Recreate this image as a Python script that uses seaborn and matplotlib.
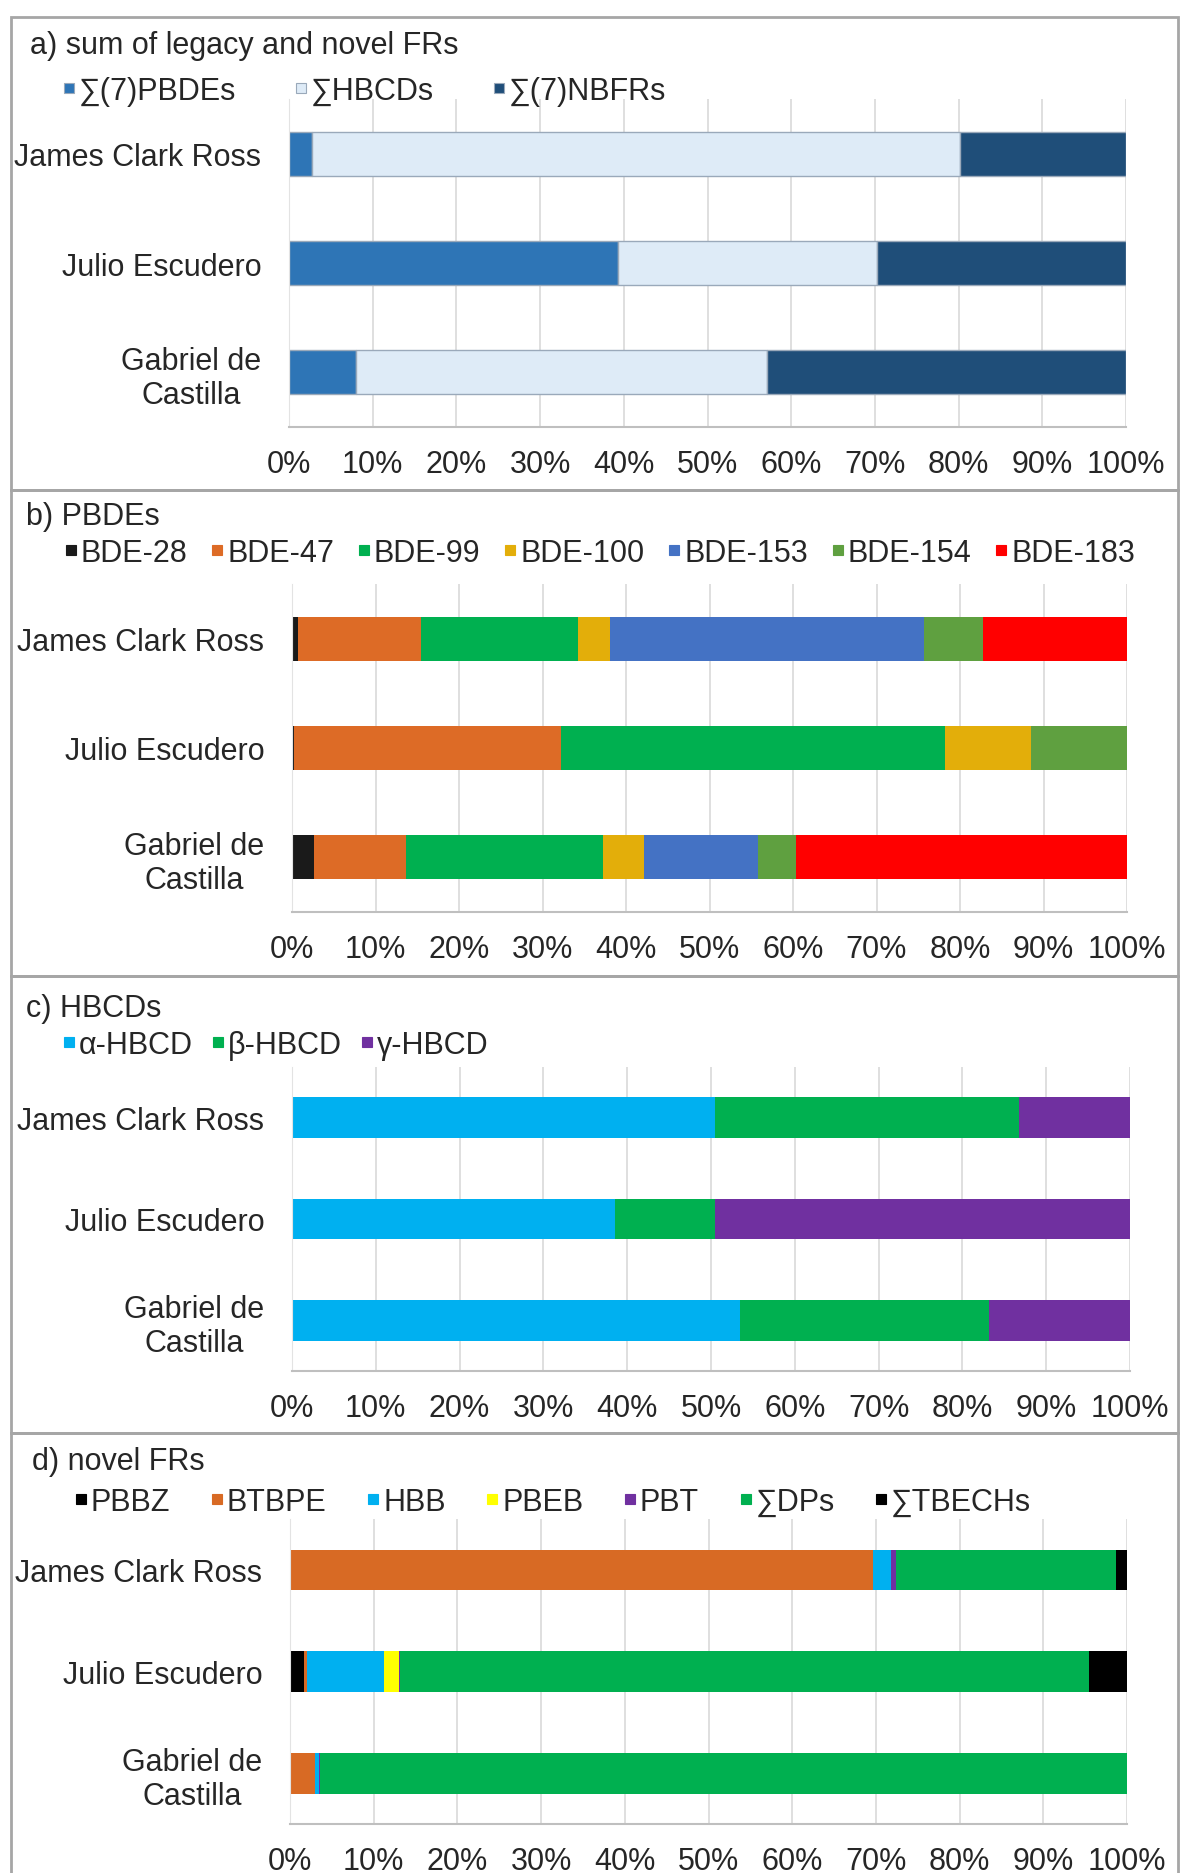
import numpy as np
import matplotlib
matplotlib.use("Agg")
import matplotlib.pyplot as plt
from matplotlib.lines import Line2D
from matplotlib.patches import Rectangle
import seaborn as sns

stations = ["James Clark Ross", "Julio Escudero", "Gabriel de\nCastilla"]

# a) sum of legacy and novel FRs (% of total)
a_labels = ["∑(7)PBDEs", "∑HBCDs", "∑(7)NBFRs"]
a_pbde = [2.8, 39.3, 8.0]
a_hbcd = [77.4, 31.0, 49.1]
a_nbfr = [19.8, 29.7, 42.9]

# b) PBDEs
b_labels = ["BDE-28", "BDE-47", "BDE-99", "BDE-100", "BDE-153", "BDE-154", "BDE-183"]
bde28 = [0.7, 0.2, 2.6]
bde47 = [14.8, 32.0, 11.1]
bde99 = [18.8, 46.0, 23.5]
bde100 = [3.8, 10.3, 4.9]
bde153 = [37.6, 0.0, 13.7]
bde154 = [7.0, 11.5, 4.6]
bde183 = [17.3, 0.0, 39.6]

# c) HBCDs
c_labels = ["α-HBCD", "β-HBCD", "γ-HBCD"]
hbcd_a = [50.5, 38.6, 53.5]
hbcd_b = [36.2, 11.9, 29.7]
hbcd_g = [13.3, 49.5, 16.8]

# d) novel FRs
d_labels = ["PBBZ", "BTBPE", "HBB", "PBEB", "PBT", "∑DPs", "∑TBECHs"]
pbbz = [0.0, 1.7, 0.0]
btbpe = [69.7, 0.3, 3.0]
hbb = [2.1, 9.2, 0.5]
pbeb = [0.0, 1.8, 0.0]
pbt = [0.6, 0.2, 0.1]
dps = [26.3, 82.3, 96.4]
tbech = [1.3, 4.5, 0.0]

ticks = list(range(0, 101, 10))
tick_labels = [f"{t}%" for t in ticks]

sns.set_style("white")
plt.rcParams["font.family"] = ["Liberation Sans", "DejaVu Sans"]
TXT = "#262626"
FS = 22

W, H = 1181, 1874
fig = plt.figure(figsize=(W / 100, H / 100), dpi=100)


def px_axes(x0, x1, y0, y1):
    return fig.add_axes([x0 / W, 1 - y1 / H, (x1 - x0) / W, (y1 - y0) / H])


def panel(ax, series, colors, labels, title, title_xy, leg_xy, colspace, edge=None):
    left = np.zeros(len(stations))
    for vals, col in zip(series, colors):
        sns.barplot(x=vals, y=stations, left=left, color=col, saturation=1,
                    width=0.4, orient="y", errorbar=None, ax=ax,
                    edgecolor=edge if edge else col,
                    linewidth=1.0 if edge else 0)
        left = left + np.array(vals)
    ax.set_xlim(0, 100)
    ax.set_ylim(2.5, -0.5)
    ax.set_xticks(ticks)
    ax.set_xticklabels(tick_labels)
    ax.set_xlabel("")
    ax.set_ylabel("")
    ax.xaxis.grid(True, color="#D9D9D9", lw=1.2)
    ax.set_axisbelow(True)
    for s in ["top", "right"]:
        ax.spines[s].set_visible(False)
    ax.spines["bottom"].set_color("#BFBFBF")
    ax.spines["bottom"].set_linewidth(1.5)
    ax.spines["left"].set_color("#E3E3E3")
    ax.set_yticks([-0.5, 0.5, 1.5, 2.5], minor=True)
    ax.tick_params(axis="y", which="minor", length=5, color="#E3E3E3")
    ax.tick_params(axis="y", which="major", length=0, pad=20, labelsize=FS, labelcolor=TXT)
    ax.tick_params(axis="x", length=0, pad=16, labelsize=FS, labelcolor=TXT)
    for lbl in ax.get_yticklabels():
        lbl.set_multialignment("center")
    fig.text(title_xy[0] / W, 1 - title_xy[1] / H, title, fontsize=FS, color=TXT,
             ha="left", va="center")
    handles = [Line2D([], [], marker="s", linestyle="none", markersize=7.5,
                      markerfacecolor=c, markeredgecolor=(edge if edge else c),
                      markeredgewidth=0.8)
               for c in colors]
    fig.legend(handles, labels, loc="center left",
               bbox_to_anchor=(leg_xy[0] / W, 1 - leg_xy[1] / H),
               ncol=len(labels), frameon=False, fontsize=FS, labelcolor=TXT,
               handlelength=0.45, handletextpad=0.1, columnspacing=colspace,
               borderpad=0, borderaxespad=0)


ax_a = px_axes(289, 1126, 100, 428)
panel(ax_a, [a_pbde, a_hbcd, a_nbfr], ["#2E75B6", "#DEEBF7", "#1F4E79"], a_labels,
      "a) sum of legacy and novel FRs", (30, 46), (62, 92), 1.9, edge="#9AA9BA")

ax_b = px_axes(292, 1127, 585, 913)
panel(ax_b, [bde28, bde47, bde99, bde100, bde153, bde154, bde183],
      ["#1A1A1A", "#DD6B26", "#00B050", "#E3AE0A", "#4472C4", "#5FA040", "#FF0000"],
      b_labels, "b) PBDEs", (26, 517), (64, 554), 0.75)

ax_c = px_axes(292, 1130, 1068, 1372)
panel(ax_c, [hbcd_a, hbcd_b, hbcd_g], ["#00B0F0", "#00B050", "#7030A0"], c_labels,
      "c) HBCDs", (26, 1009), (62, 1046), 0.6)

ax_d = px_axes(290, 1127, 1520, 1825)
panel(ax_d, [pbbz, btbpe, hbb, pbeb, pbt, dps, tbech],
      ["#000000", "#D86A24", "#00B0F0", "#FFFF00", "#7030A0", "#00B050", "#000000"],
      d_labels, "d) novel FRs", (32, 1462), (74, 1503), 1.3)

# panel frames
for y0, y1 in [(18, 491), (491, 977), (977, 1434), (1434, 1880)]:
    fig.add_artist(Rectangle((11 / W, 1 - y1 / H), (1178 - 11) / W, (y1 - y0) / H,
                             transform=fig.transFigure, fill=False,
                             edgecolor="#A6A6A6", lw=2))

fig.savefig("out.png", dpi=100)
